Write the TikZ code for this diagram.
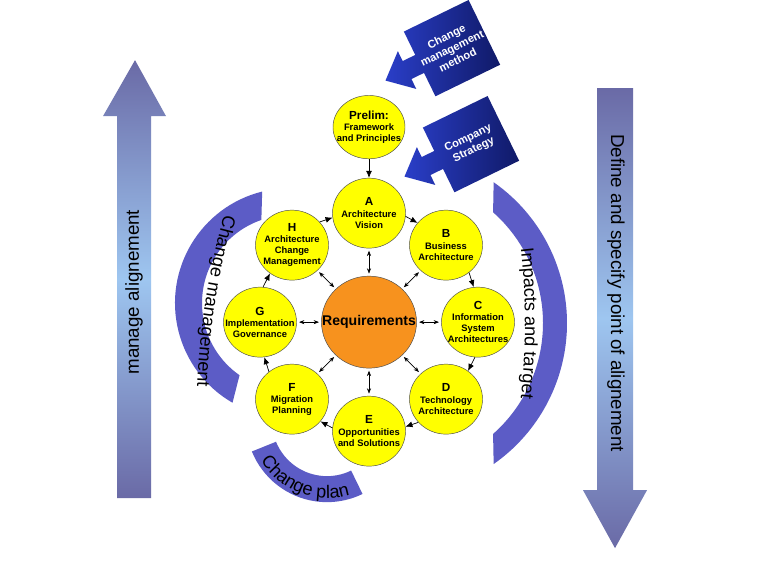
\documentclass[tikz,border=0pt]{standalone}
\usepackage{fontspec}
\setmainfont{Liberation Sans}
\usepackage{tikz}
\usepackage{xcolor}
\usetikzlibrary{arrows.meta,shapes.geometric,decorations.text,calc}
\definecolor{stageyellow}{RGB}{255,255,0}
\definecolor{reqorange}{RGB}{247,146,30}
\definecolor{bandblue}{RGB}{92,92,198}
\definecolor{arrowend}{RGB}{106,106,166}
\definecolor{arrowmid}{RGB}{158,198,240}
\definecolor{navydark}{RGB}{16,26,104}
\definecolor{navylight}{RGB}{42,62,200}
\newcommand\bandfont{\fontsize{15.5}{18}\selectfont}
\tikzset{
    stage/.style = {draw=black!70, fill=stageyellow, ellipse, thin, minimum width=2.19cm, minimum height=2.1cm, inner sep=0pt},
    stage-text/.style = {align=center, font=\footnotesize\bfseries, inner sep=0pt},
    req/.style = {draw=black!70, fill=reqorange, ellipse, thin, minimum width=2.85cm, minimum height=2.76cm, inner sep=0pt},
    req-text/.style = {font=\large\bfseries, inner sep=0pt},
    flow/.style = {-{Latex[length=6pt, width=5pt]}, line width=0.6pt},
    spoke/.style = {{Stealth[length=4.5pt, width=3.5pt]}-{Stealth[length=4.5pt, width=3.5pt]}, line width=0.5pt, shorten <=2pt, shorten >=2pt},
    band/.style = {fill=bandblue},
    band-text/.style = {decorate, decoration={text along path, text align=center}},
    big-arrow/.style = {top color=arrowend, bottom color=arrowend, middle color=arrowmid},
    big-text/.style = {font=\fontsize{16}{19}\selectfont},
    block-arrow/.style = {left color=navylight, right color=navydark},
    block-text/.style = {align=center, text=white, rotate=26, font=\fontsize{9.5}{11}\selectfont\bfseries},
}

\begin{document}
\begin{tikzpicture}[x=0.03cm, y=-0.03cm]
\fill [white] (0,0) rectangle (768,576);

% alignment arrows
\shade [big-arrow] (117,495) -- (117,113) -- (103,113) -- (135,57) -- (166,113) -- (151,113) -- (151,495) -- cycle;
\node [big-text, rotate=90] (manage) at (134,289) {manage alignement};
\shade [big-arrow] (597,85) -- (633,85) -- (633,487) -- (647,487) -- (615,545) -- (583,487) -- (597,487) -- cycle;
\node [big-text, rotate=-90] (define) at (616,290) {Define and specify point of alignement};

% bands round the wheel
\coordinate (cm-c) at (290,300);
\coordinate (it-c) at (395,320);
\coordinate (cp-c) at (327,418);
\fill [band] ($(cm-c)+(256:115)$) arc[start angle=256, end angle=120, radius=115] -- ($(cm-c)+(125:88)$) arc[start angle=125, end angle=251, radius=88] -- cycle;
\fill [band] ($(it-c)+(-55:172)$) arc[start angle=-55, end angle=55, radius=172] -- ($(it-c)+(48.5:148)$) arc[start angle=48.5, end angle=-48.5, radius=148] -- cycle;
\fill [band] ($(cp-c)+(158:81)$) arc[start angle=158, end angle=64, radius=81] -- ($(cp-c)+(64:55)$) arc[start angle=64, end angle=158, radius=55] -- cycle;
\path [band-text, decoration={text={|\bandfont|Change management}}] (226,205) .. controls (210,262) and (199,322) .. (197,390);
\path [band-text, decoration={text={|\bandfont|Impacts and target}}] (519,230) .. controls (527,290) and (527,350) .. (519,410);
\path [band-text, decoration={text={|\bandfont|Change plan}}] ($(cp-c)+(156:77)$) arc[start angle=156, end angle=66, radius=77];

% inputs
\begin{scope}[shift={(452,45)}, rotate=26]
\shade [block-arrow] (36,-36) -- (36,36) -- (-36,36) -- (-36,10) -- (-50,10) -- (-50,21) -- (-74,0) -- (-50,-21) -- (-50,-10) -- (-36,-10) -- (-36,-36) -- cycle;
\node [block-text] (method) at (0,0) {Change\\management\\method};
\end{scope}
\begin{scope}[shift={(471,141)}, rotate=26]
\shade [block-arrow] (36,-36) -- (36,36) -- (-36,36) -- (-36,10) -- (-50,10) -- (-50,21) -- (-74,0) -- (-50,-21) -- (-50,-10) -- (-36,-10) -- (-36,-36) -- cycle;
\node [block-text] (strategy) at (0,0) {Company\\Strategy};
\end{scope}

% the wheel
\node [req, label={[req-text]center:Requirements}] (req) at (369,319) {};
\node [stage, minimum width=2.16cm, minimum height=1.9cm, label={[stage-text]center:{{\normalsize Prelim:}\\Framework\\and Principles}}] (prelim) at (369,124) {};
\node [stage, label={[stage-text]center:{{\normalsize A}\\Architecture\\Vision}}] (A) at (369,210) {};
\node [stage, label={[stage-text]center:{{\normalsize B}\\Business\\Architecture}}] (B) at (446,242) {};
\node [stage, label={[stage-text]center:{{\normalsize C}\\Information\\System\\Architectures}}] (C) at (478,319) {};
\node [stage, label={[stage-text]center:{{\normalsize D}\\Technology\\Architecture}}] (D) at (446,396) {};
\node [stage, label={[stage-text]center:{{\normalsize E}\\Opportunities\\and Solutions}}] (E) at (369,428) {};
\node [stage, label={[stage-text]center:{{\normalsize F}\\Migration\\Planning}}] (F) at (292,396) {};
\node [stage, label={[stage-text]center:{{\normalsize G}\\Implementation\\Governance}}] (G) at (260,319) {};
\node [stage, label={[stage-text]center:{{\normalsize H}\\Architecture\\Change\\Management}}] (H) at (292,242) {};

\draw [flow] (prelim) -- (A);
\draw [flow] (A.-5) -- (B.142);
\draw [flow] (B.-50) -- (C.97);
\draw [flow] (C.-95) -- (D.52);
\draw [flow] (D.-140) -- (E.7);
\draw [flow] (E.175) -- (F.-38);
\draw [flow] (F.130) -- (G.-83);
\draw [flow] (G.85) -- (H.-128);
\draw [flow] (H.40) -- (A.187);

\draw [spoke] (req) -- (A);
\draw [spoke] (req) -- (B);
\draw [spoke] (req) -- (C);
\draw [spoke] (req) -- (D);
\draw [spoke] (req) -- (E);
\draw [spoke] (req) -- (F);
\draw [spoke] (req) -- (G);
\draw [spoke] (req) -- (H);
\end{tikzpicture}
\end{document}
